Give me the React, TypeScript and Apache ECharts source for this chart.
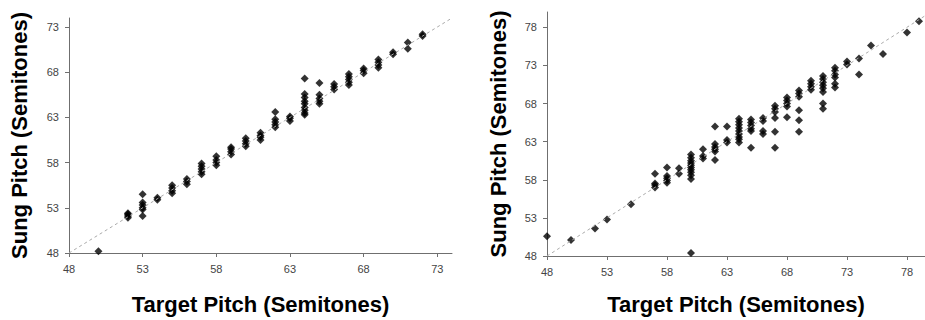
import React, { useEffect, useRef } from "react";
import * as echarts from "echarts";

// Left panel: target pitch -> sung pitches
const leftTargets = [50, 52, 53, 54, 55, 56, 57, 58, 59, 60, 61, 62, 63, 64, 65, 66, 67, 68, 69, 70, 71, 72];
const leftSung: number[][] = [
  [48.2],
  [51.9, 52.1, 52.3, 52.4],
  [54.5, 53.6, 53.3, 53.0, 52.8, 52.1],
  [53.9, 54.1],
  [54.6, 54.9, 55.2, 55.5],
  [55.6, 55.9, 56.2],
  [56.7, 57.0, 57.3, 57.6, 57.9],
  [57.7, 58.0, 58.3, 58.7],
  [58.9, 59.2, 59.5, 59.7],
  [59.8, 60.1, 60.4, 60.7],
  [60.5, 60.8, 61.0, 61.3],
  [63.6, 62.8, 62.5, 62.2, 61.9],
  [62.6, 62.9, 63.1],
  [67.3, 65.6, 65.2, 64.8, 64.5, 64.1, 63.8, 63.5, 63.3],
  [66.8, 65.5, 65.1, 64.8, 64.5],
  [66.1, 66.4, 66.7],
  [66.6, 66.9, 67.2, 67.5, 67.8],
  [67.9, 68.2, 68.4],
  [68.5, 68.8, 69.1, 69.4],
  [70.0, 70.2],
  [70.6, 71.3],
  [72.0, 72.2],
];

// Right panel: target pitch -> sung pitches
const rightTargets = [48, 50, 52, 53, 55, 57, 58, 59, 60, 61, 62, 63, 64, 65, 66, 67, 68, 69, 70, 71, 72, 73, 74, 75, 76, 78, 79];
const rightSung: number[][] = [
  [50.6],
  [50.1],
  [51.6],
  [52.8],
  [54.8],
  [58.8, 57.5, 57.3, 57.0],
  [59.6, 58.5, 58.2, 57.9, 57.6],
  [59.5, 58.8],
  [61.3, 60.9, 60.5, 60.2, 59.9, 59.6, 59.3, 59.0, 58.6, 58.1, 48.4],
  [62.0, 61.1, 60.8],
  [65.0, 62.7, 62.3, 62.0, 61.7, 60.6],
  [65.0, 63.2, 62.9],
  [66.0, 65.6, 65.2, 64.8, 64.4, 64.0, 63.6, 63.3, 62.9],
  [65.9, 65.5, 65.1, 64.7, 64.4, 62.2],
  [66.1, 65.7, 64.4, 64.0],
  [67.7, 67.3, 66.9, 66.1, 64.3, 62.2],
  [68.8, 68.4, 68.0, 67.6, 66.2],
  [69.7, 69.3, 68.9, 67.1, 65.8, 64.3],
  [71.0, 70.6, 70.2, 69.8],
  [71.6, 71.2, 70.8, 70.4, 70.0, 69.5, 68.0, 67.3],
  [72.7, 72.3, 71.8, 71.4, 70.6, 70.1],
  [73.5, 73.1],
  [73.9, 71.8],
  [75.6],
  [74.5],
  [77.3],
  [78.8],
];

const leftTicks = [48, 53, 58, 63, 68, 73];
const rightTicks = [48, 53, 58, 63, 68, 73, 78];
const leftRange = [48, 74];
const rightXRange = [48, 79.5];
const rightYRange = [48, 80];

const xTitle = "Target Pitch (Semitones)";
const yTitle = "Sung Pitch (Semitones)";

function toPoints(targets: number[], sung: number[][]) {
  const pts: number[][] = [];
  targets.forEach((t, i) => sung[i].forEach((s) => pts.push([t, s])));
  return pts;
}

const FONT = "'Liberation Sans', Arial, Helvetica, sans-serif";
const AXIS_COLOR = "#6f6f6f";

function makeAxis(min: number, max: number, ticks: number[], name: string, nameGap: number, gridIndex: number) {
  return {
    type: "value",
    gridIndex,
    min,
    max,
    name,
    nameLocation: "middle",
    nameGap,
    nameTextStyle: { fontFamily: FONT, fontWeight: "bold", fontSize: 22, color: "#000" },
    axisLine: { show: true, onZero: false, lineStyle: { color: AXIS_COLOR, width: 1 } },
    axisTick: { show: true, length: 4, customValues: ticks, lineStyle: { color: AXIS_COLOR } },
    axisLabel: { customValues: ticks, fontFamily: FONT, fontSize: 11, color: "#444", margin: 10 },
    splitLine: { show: false },
  };
}

export default function App() {
  const ref = useRef<HTMLDivElement>(null);
  useEffect(() => {
    if (!ref.current) return;
    const chart = echarts.init(ref.current, undefined, { renderer: "svg" });
    chart.setOption({
      animation: false,
      backgroundColor: "#fff",
      grid: [
        { left: 69, top: 18, width: 383, height: 240 },
        { left: 547, top: 12, width: 378, height: 249 },
      ],
      xAxis: [
        makeAxis(leftRange[0], leftRange[1], leftTicks, xTitle, 40, 0),
        makeAxis(rightXRange[0], rightXRange[1], rightTicks, xTitle, 37, 1),
      ],
      yAxis: [
        makeAxis(leftRange[0], leftRange[1], leftTicks, yTitle, 39, 0),
        makeAxis(rightYRange[0], rightYRange[1], rightTicks, yTitle, 38, 1),
      ],
      series: [
        {
          type: "line",
          xAxisIndex: 0,
          yAxisIndex: 0,
          data: [[leftRange[0], leftRange[0]], [leftRange[1], leftRange[1]]],
          symbol: "none",
          lineStyle: { color: "#aaa", width: 1, type: [3, 3] },
          silent: true,
        },
        {
          type: "line",
          xAxisIndex: 1,
          yAxisIndex: 1,
          data: [[rightYRange[0], rightYRange[0]], [rightYRange[1], rightYRange[1]]],
          symbol: "none",
          lineStyle: { color: "#aaa", width: 1, type: [3, 3] },
          silent: true,
        },
        {
          type: "scatter",
          xAxisIndex: 0,
          yAxisIndex: 0,
          data: toPoints(leftTargets, leftSung),
          symbol: "diamond",
          symbolSize: 8,
          itemStyle: { color: "#000" },
        },
        {
          type: "scatter",
          xAxisIndex: 1,
          yAxisIndex: 1,
          data: toPoints(rightTargets, rightSung),
          symbol: "diamond",
          symbolSize: 8,
          itemStyle: { color: "#000" },
        },
      ],
    });
    return () => chart.dispose();
  }, []);
  return (
    <div
      ref={ref}
      style={{ position: "absolute", left: 0, top: 0, width: 925, height: 320 }}
    />
  );
}
